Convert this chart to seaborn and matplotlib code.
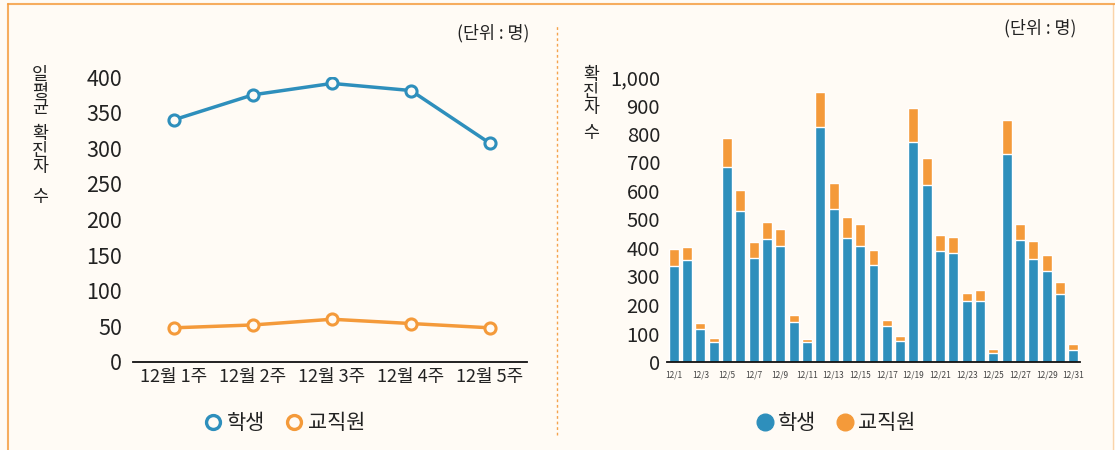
import numpy as np
import pandas as pd
import matplotlib
matplotlib.use("Agg")
import matplotlib.pyplot as plt
import seaborn as sns
from matplotlib.lines import Line2D

# datos semanales (promedio diario)
semanas = ["12월 1주", "12월 2주", "12월 3주", "12월 4주", "12월 5주"]
sem_estudiantes = [340, 375, 391, 381, 307]
sem_personal = [48, 52, 60, 54, 48]

# datos diarios
dias = [f"12/{d}" for d in range(1, 32)]
dia_estudiantes = [337, 358, 116, 70, 684, 530, 365, 431, 407, 140, 70, 825, 537, 435, 407, 340,
                   126, 73, 772, 621, 389, 382, 214, 214, 32, 730, 428, 361, 319, 239, 42]
dia_personal = [60, 45, 20, 14, 102, 73, 56, 60, 60, 25, 11, 122, 91, 74, 77, 53,
                21, 18, 119, 95, 57, 57, 28, 39, 14, 119, 56, 63, 56, 42, 21]

AZUL = "#2E8FBC"
NARANJA = "#F49A3A"
FONDO = "#FFFBF5"
TEXTO = "#222222"

sns.set_theme(style="white")
plt.rcParams['font.family'] = ['Noto Sans CJK KR', 'DejaVu Sans']

fig = plt.figure(figsize=(11.15, 4.5), dpi=100)
fig.patch.set_facecolor(FONDO)

# bordes y separador
fig.add_artist(Line2D([8/1115, 1], [1-4/450, 1-4/450], color=NARANJA, lw=1.5, alpha=0.8))
fig.add_artist(Line2D([8/1115, 8/1115], [0, 1-4/450], color=NARANJA, lw=1.5, alpha=0.8))
fig.add_artist(Line2D([1113/1115, 1113/1115], [0, 1-4/450], color=NARANJA, lw=1, alpha=0.4))
fig.add_artist(Line2D([557/1115, 557/1115], [1-435/450, 1-25/450], color=NARANJA, lw=1,
                      ls=(0, (2, 2)), alpha=0.9))

bottom = 1 - 362/450
height = (362 - 77) / 450

# --- grafico de lineas ---
ax1 = fig.add_axes([133/1115, bottom, (527-133)/1115, height])
ax1.set_facecolor(FONDO)
df_sem = pd.DataFrame({"semana": semanas * 2,
                       "valor": sem_estudiantes + sem_personal,
                       "grupo": ["학생"] * 5 + ["교직원"] * 5})
x_idx = {s: i for i, s in enumerate(semanas)}
df_sem["x"] = df_sem["semana"].map(x_idx)
sns.lineplot(data=df_sem, x="x", y="valor", hue="grupo", palette={"학생": AZUL, "교직원": NARANJA},
             marker="o", markersize=8, markerfacecolor=FONDO, markeredgewidth=2.2,
             linewidth=2.5, legend=False, ax=ax1)
for line, c in zip(ax1.lines, [AZUL, NARANJA]):
    line.set_markeredgecolor(c)
ax1.set_xlim(-0.52, 4.47)
ax1.set_ylim(0, 400)
ax1.set_xticks(range(5))
ax1.set_xticklabels(semanas, fontsize=13, color=TEXTO)
ax1.set_yticks(range(0, 401, 50))
ax1.tick_params(axis="y", labelsize=15.5, colors=TEXTO, pad=8, length=0)
ax1.tick_params(axis="x", pad=4, length=0)
ax1.set_xlabel("")
ax1.set_ylabel("")
for s in ["top", "right", "left"]:
    ax1.spines[s].set_visible(False)
ax1.spines["bottom"].set_color("#111111")
ax1.spines["bottom"].set_linewidth(1.3)

# etiqueta vertical del eje y (caracteres apilados)
for txt, y0 in [("일평균", 66), ("확진자", 125), ("수", 188)]:
    fig.text(40/1115, 1-y0/450, "\n".join(txt), fontsize=12.5, color=TEXTO,
             ha="center", va="top", linespacing=0.9)
fig.text(493/1115, 1-33/450, "(단위 : 명)", fontsize=12.5, color=TEXTO, ha="center", va="center")

leg1 = [Line2D([], [], marker="o", ls="", markersize=10, markerfacecolor=FONDO,
               markeredgecolor=AZUL, markeredgewidth=2.4, label="학생"),
        Line2D([], [], marker="o", ls="", markersize=10, markerfacecolor=FONDO,
               markeredgecolor=NARANJA, markeredgewidth=2.4, label="교직원")]
fig.legend(handles=leg1, loc="center", bbox_to_anchor=(284/1115, 1-423/450), ncol=2,
           frameon=False, fontsize=15, handletextpad=0.15, columnspacing=0.9, handlelength=1.0,
           labelcolor=TEXTO)

# --- grafico de barras apiladas ---
ax2 = fig.add_axes([667/1115, bottom, (1080-667)/1115, height])
ax2.set_facecolor(FONDO)
totales = [a + b for a, b in zip(dia_estudiantes, dia_personal)]
sns.barplot(x=dias, y=totales, color=NARANJA, width=0.75, saturation=1, ax=ax2)
sns.barplot(x=dias, y=dia_estudiantes, color=AZUL, width=0.75, saturation=1, ax=ax2)
ax2.set_ylim(0, 1000)
ax2.set_xlim(-0.5, 30.5)
ax2.set_yticks(range(0, 1001, 100))
ax2.set_yticklabels([f"{v:,}" for v in range(0, 1001, 100)])
ax2.set_xticks(range(0, 31, 2))
ax2.set_xticklabels(dias[::2], fontsize=6, color="#444444")
ax2.tick_params(axis="y", labelsize=14.5, colors=TEXTO, pad=5, length=0)
ax2.tick_params(axis="x", pad=6, length=0)
for s in ["top", "right", "left"]:
    ax2.spines[s].set_visible(False)
ax2.spines["bottom"].set_color("#111111")
ax2.spines["bottom"].set_linewidth(1.3)

for txt, y0 in [("확진자", 66), ("수", 124)]:
    fig.text(591/1115, 1-y0/450, "\n".join(txt), fontsize=12.5, color=TEXTO,
             ha="center", va="top", linespacing=0.9)
fig.text(1040/1115, 1-28/450, "(단위 : 명)", fontsize=12.5, color=TEXTO, ha="center", va="center")

leg2 = [Line2D([], [], marker="o", ls="", markersize=12, markerfacecolor=AZUL,
               markeredgecolor=AZUL, label="학생"),
        Line2D([], [], marker="o", ls="", markersize=12, markerfacecolor=NARANJA,
               markeredgecolor=NARANJA, label="교직원")]
fig.legend(handles=leg2, loc="center", bbox_to_anchor=(835/1115, 1-423/450), ncol=2,
           frameon=False, fontsize=15, handletextpad=0.1, columnspacing=0.9, handlelength=1.0,
           labelcolor=TEXTO)

plt.savefig("out.png", dpi=100, facecolor=fig.get_facecolor())
